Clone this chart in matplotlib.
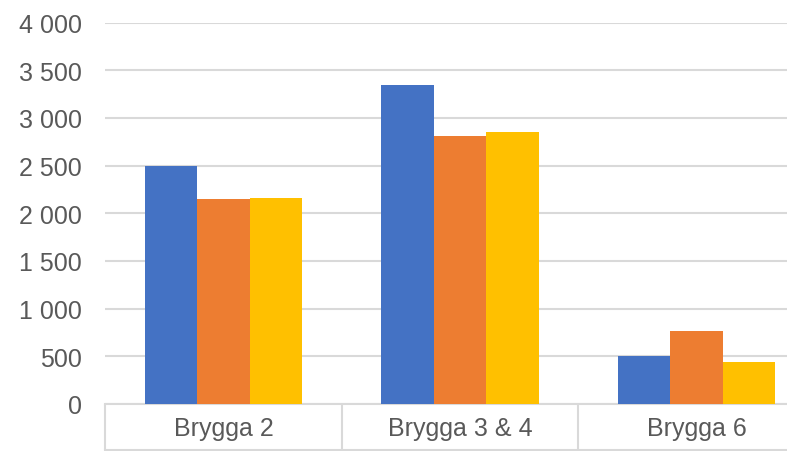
import matplotlib
matplotlib.use('Agg')
import matplotlib.pyplot as plt
from matplotlib.ticker import FuncFormatter, MultipleLocator
import numpy as np

categories = ['Brygga 2', 'Brygga 3 & 4', 'Brygga 6']
series_1 = [2500, 3340, 505]
series_2 = [2150, 2805, 765]
series_3 = [2165, 2855, 440]
colors = ['#4472C4', '#ED7D31', '#FFC000']

plt.rcParams['font.family'] = ['Liberation Sans', 'DejaVu Sans']

fig = plt.figure(figsize=(7.87, 4.52), dpi=100)
# the plot area runs past the right edge of the picture, as in the reference
ax = fig.add_axes([105.3 / 787, 47 / 452, 709.5 / 787, 381.5 / 452])

x = np.arange(len(categories))
w = 0.222
for i, (vals, c) in enumerate(zip([series_1, series_2, series_3], colors)):
    ax.bar(x + (i - 1) * w, vals, width=w, color=c, zorder=3)

ax.set_xlim(-0.5, len(categories) - 0.5)
ax.set_ylim(0, 4000)
ax.yaxis.set_major_locator(MultipleLocator(500))
ax.yaxis.set_major_formatter(FuncFormatter(lambda v, p: f"{v:,.0f}".replace(",", " ")))
ax.grid(axis='y', color='#d9d9d9', linewidth=1.5, zorder=0)

for s in ['top', 'right', 'left']:
    ax.spines[s].set_visible(False)
ax.spines['bottom'].set_color('#d9d9d9')
ax.spines['bottom'].set_linewidth(1.5)

ax.set_xticks(x)
ax.set_xticklabels(categories)
ax.tick_params(axis='x', length=0, pad=8.5, labelsize=18, labelcolor='#595959')
ax.tick_params(axis='y', length=0, pad=17, labelsize=18, labelcolor='#595959')

# category box under the axis
edges = np.arange(len(categories) + 1) - 0.5
ax.vlines(edges, -0.12, 0, transform=ax.get_xaxis_transform(),
          color='#d9d9d9', linewidth=1.5, clip_on=False)
ax.plot([-0.5, len(categories) - 0.5], [-0.12, -0.12], transform=ax.get_xaxis_transform(),
        color='#d9d9d9', linewidth=1.5, clip_on=False)

plt.savefig('out.png', dpi=100)
